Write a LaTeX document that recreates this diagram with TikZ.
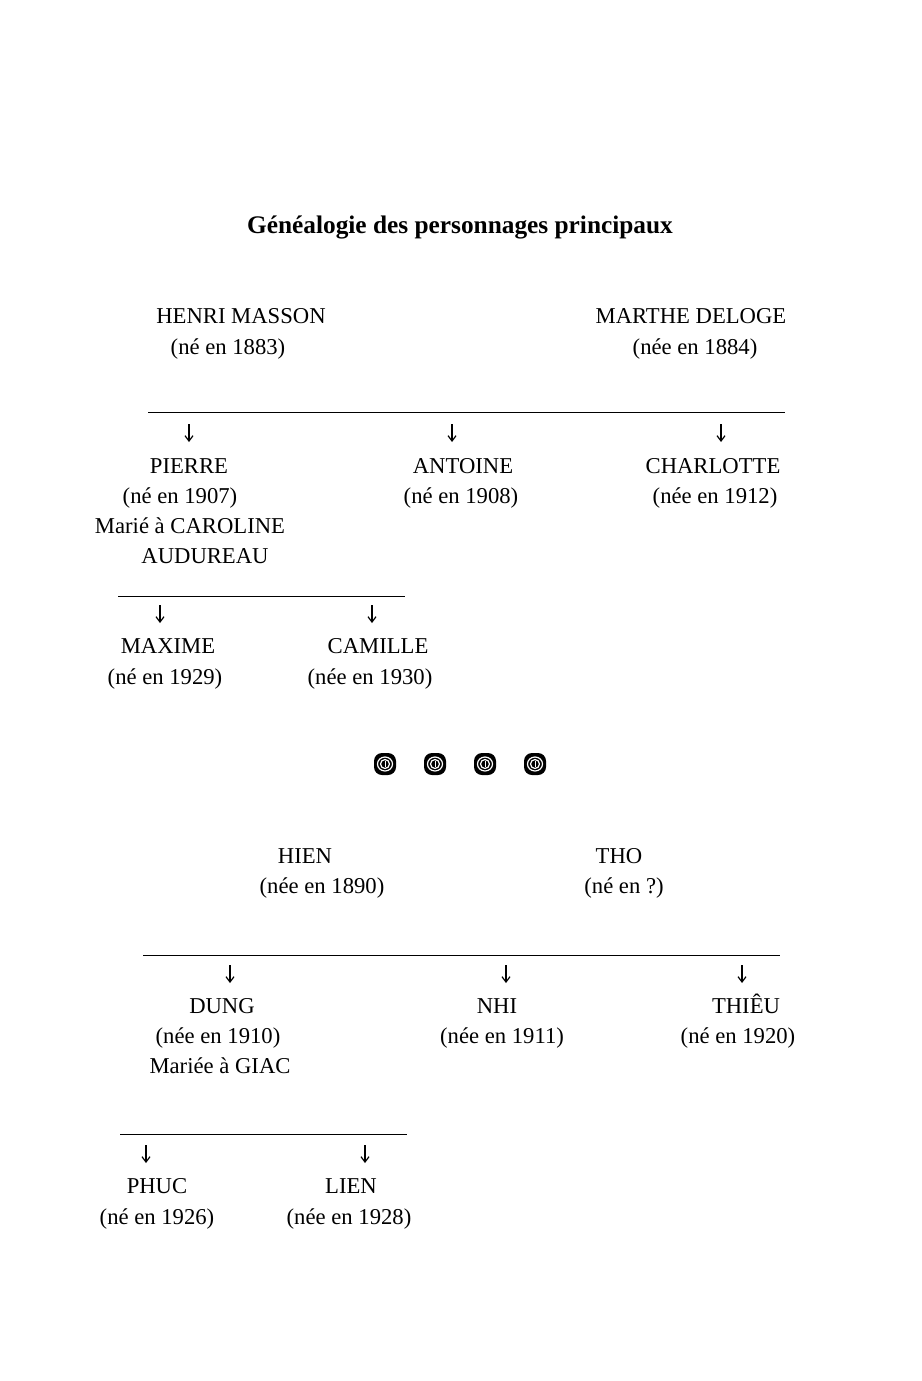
\documentclass[tikz,border=0pt]{standalone}
\usepackage{fontspec}
\setmainfont{Liberation Serif}
\usetikzlibrary{arrows.meta}
\begin{document}
\begin{tikzpicture}[x=0.75pt,y=-0.75pt,
  t/.style={anchor=base,inner sep=0pt,font=\fontsize{17}{20}\selectfont},
  rule/.style={line width=0.7pt},
  arr/.style={line width=0.9pt,-{Straight Barb[length=4pt,width=6pt]}}]
\useasboundingbox (0,0) rectangle (921,1381);
\node[t,font=\fontsize{19}{22}\selectfont\bfseries] (title) at (460,233) {Généalogie des personnages principaux};
% generation 1
\node[t] (henri) at (241,323) {HENRI MASSON};
\node[t] (henriy) at (228,354) {(né en 1883)};
\node[t] (marthe) at (691,323) {MARTHE DELOGE};
\node[t] (marthey) at (695,354) {(née en 1884)};
\coordinate (l1a) at (148,412); \coordinate (l1b) at (785,412);
\draw[rule] (l1a) -- (l1b);
\node[t] (pierre) at (189,473) {PIERRE};
\node[t] (pierrey) at (180,503) {(né en 1907)};
\node[t] (pierrem) at (190,533) {Marié à CAROLINE};
\node[t] (pierrem2) at (205,563) {AUDUREAU};
\node[t] (antoine) at (463,473) {ANTOINE};
\node[t] (antoiney) at (461,503) {(né en 1908)};
\node[t] (charlotte) at (713,473) {CHARLOTTE};
\node[t] (charlottey) at (715,503) {(née en 1912)};
\foreach \x/\n in {189/a1,452/a2,721/a3}{
  \coordinate (\n s) at (\x,424); \coordinate (\n e) at (\x,442);
  \draw[arr] (\n s) -- (\n e);}
\coordinate (l2a) at (118,596); \coordinate (l2b) at (405,596);
\draw[rule] (l2a) -- (l2b);
\foreach \x/\n in {160/b1,372/b2}{
  \coordinate (\n s) at (\x,605); \coordinate (\n e) at (\x,623);
  \draw[arr] (\n s) -- (\n e);}
\node[t] (maxime) at (168,653) {MAXIME};
\node[t] (maximey) at (165,684) {(né en 1929)};
\node[t] (camille) at (378,653) {CAMILLE};
\node[t] (camilley) at (370,684) {(née en 1930)};
% ornaments
\foreach \x in {385,435,485,535}{
  \fill[black,rounded corners=6pt] (\x-11,753) rectangle (\x+11,775);
  \draw[white,line width=0.9pt] (\x,764) ellipse (7.5 and 7);
  \draw[white,line width=0.9pt] (\x,764) ellipse (4.5 and 4.5);
  \draw[white,line width=0.7pt] (\x,761) -- (\x,767);
}
% generation 2
\node[t] (hien) at (305,863) {HIEN};
\node[t] (hieny) at (322,893) {(née en 1890)};
\node[t] (tho) at (619,863) {THO};
\node[t] (thoy) at (624,893) {(né en ?)};
\coordinate (l3a) at (143,955); \coordinate (l3b) at (780,955);
\draw[rule] (l3a) -- (l3b);
\foreach \x/\n in {230/c1,506/c2,742/c3}{
  \coordinate (\n s) at (\x,965); \coordinate (\n e) at (\x,983);
  \draw[arr] (\n s) -- (\n e);}
\node[t] (dung) at (222,1013) {DUNG};
\node[t] (dungy) at (218,1043) {(née en 1910)};
\node[t] (dungm) at (220,1073) {Mariée à GIAC};
\node[t] (nhi) at (497,1013) {NHI};
\node[t] (nhiy) at (502,1043) {(née en 1911)};
\node[t] (thieu) at (746,1013) {THIÊU};
\node[t] (thieuy) at (738,1043) {(né en 1920)};
\coordinate (l4a) at (120,1134); \coordinate (l4b) at (407,1134);
\draw[rule] (l4a) -- (l4b);
\foreach \x/\n in {146/d1,365/d2}{
  \coordinate (\n s) at (\x,1145); \coordinate (\n e) at (\x,1163);
  \draw[arr] (\n s) -- (\n e);}
\node[t] (phuc) at (157,1193) {PHUC};
\node[t] (phucy) at (157,1224) {(né en 1926)};
\node[t] (lien) at (351,1193) {LIEN};
\node[t] (lieny) at (349,1224) {(née en 1928)};
\end{tikzpicture}
\end{document}
